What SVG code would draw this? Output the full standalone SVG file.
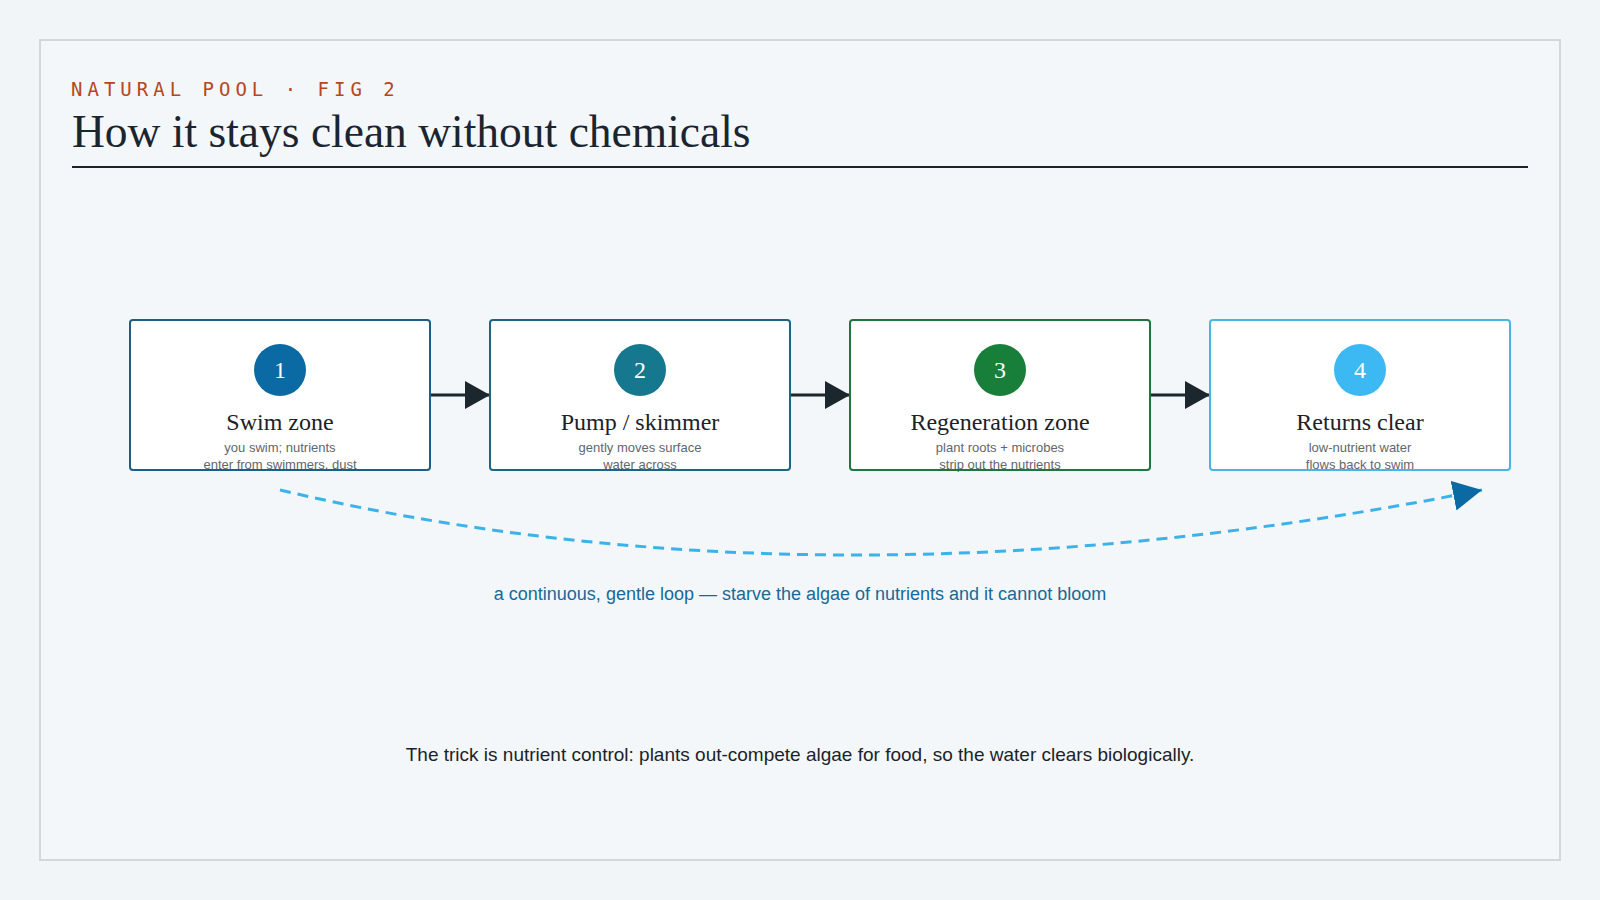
<svg xmlns="http://www.w3.org/2000/svg" width="1600" height="900" viewBox="0 0 1600 900">
  <style>
    .kicker { font-family: "DejaVu Sans Mono", "Liberation Mono", monospace; font-size: 19px; letter-spacing: 5px; fill: #b8461c; }
    .title { font-family: "Liberation Serif", "DejaVu Serif", serif; font-size: 45.5px; fill: #1b2530; }
    .num { font-family: "Liberation Serif", "DejaVu Serif", serif; font-size: 24px; fill: #ffffff; text-anchor: middle; }
    .ntitle { font-family: "Liberation Serif", "DejaVu Serif", serif; font-size: 24px; fill: #1b2228; text-anchor: middle; }
    .nsub { font-family: "Liberation Sans", Arial, sans-serif; font-size: 13px; fill: #5f666c; text-anchor: middle; }
    .boxfill { fill: #ffffff; stroke: none; }
    .boxline { fill: none; stroke-width: 2; }
    .flow { stroke: #1b262d; stroke-width: 3; fill: none; }
    .loop { stroke: #3bb2ea; stroke-width: 3; fill: none; stroke-dasharray: 11 7; }
    .loopnote { font-family: "Liberation Sans", Arial, sans-serif; font-size: 18px; fill: #15699a; text-anchor: middle; }
    .foot { font-family: "Liberation Sans", Arial, sans-serif; font-size: 19px; fill: #1c2328; text-anchor: middle; }
  </style>
  <defs>
    <marker id="arrowDark" markerUnits="userSpaceOnUse" markerWidth="26" markerHeight="30" viewBox="0 0 26 30" refX="25" refY="15" orient="auto">
      <path d="M0,1 L25,15 L0,29 Z" fill="#1b262d"/>
    </marker>
    <marker id="arrowBlue" markerUnits="userSpaceOnUse" markerWidth="30" markerHeight="32" viewBox="0 0 30 32" refX="29" refY="16" orient="auto">
      <path d="M0,1 L29,16 L0,31 Z" fill="#0b69a3"/>
    </marker>
  </defs>

  <rect x="0" y="0" width="1600" height="900" fill="#f2f5f7"/>
  <rect x="40" y="40" width="1520" height="820" fill="#f3f7f9" stroke="#d2d7db" stroke-width="2"/>

  <text class="kicker" x="71" y="96">NATURAL POOL · FIG 2</text>
  <text class="title" x="72" y="147">How it stays clean without chemicals</text>
  <line x1="72" y1="167" x2="1528" y2="167" stroke="#1b2228" stroke-width="2"/>

  <g id="connectors">
    <line class="flow" x1="430" y1="395" x2="490" y2="395" marker-end="url(#arrowDark)"/>
    <line class="flow" x1="790" y1="395" x2="850" y2="395" marker-end="url(#arrowDark)"/>
    <line class="flow" x1="1150" y1="395" x2="1210" y2="395" marker-end="url(#arrowDark)"/>
    <path class="loop" d="M280,490 Q830,620 1482,490" marker-end="url(#arrowBlue)"/>
  </g>

  <g id="node-1">
    <rect class="boxfill" x="130" y="320" width="300" height="150" rx="3"/>
    <circle cx="280" cy="370" r="26" fill="#0b69a3"/>
    <text class="num" x="280" y="378">1</text>
    <text class="ntitle" x="280" y="430">Swim zone</text>
    <text class="nsub" x="280" y="452">you swim; nutrients</text>
    <text class="nsub" x="280" y="469">enter from swimmers, dust</text>
    <rect class="boxline" x="130" y="320" width="300" height="150" rx="3" stroke="#1c5f82"/>
  </g>

  <g id="node-2">
    <rect class="boxfill" x="490" y="320" width="300" height="150" rx="3"/>
    <circle cx="640" cy="370" r="26" fill="#15788f"/>
    <text class="num" x="640" y="378">2</text>
    <text class="ntitle" x="640" y="430">Pump / skimmer</text>
    <text class="nsub" x="640" y="452">gently moves surface</text>
    <text class="nsub" x="640" y="469">water across</text>
    <rect class="boxline" x="490" y="320" width="300" height="150" rx="3" stroke="#1c6681"/>
  </g>

  <g id="node-3">
    <rect class="boxfill" x="850" y="320" width="300" height="150" rx="3"/>
    <circle cx="1000" cy="370" r="26" fill="#187f3b"/>
    <text class="num" x="1000" y="378">3</text>
    <text class="ntitle" x="1000" y="430">Regeneration zone</text>
    <text class="nsub" x="1000" y="452">plant roots + microbes</text>
    <text class="nsub" x="1000" y="469">strip out the nutrients</text>
    <rect class="boxline" x="850" y="320" width="300" height="150" rx="3" stroke="#1f7540"/>
  </g>

  <g id="node-4">
    <rect class="boxfill" x="1210" y="320" width="300" height="150" rx="3"/>
    <circle cx="1360" cy="370" r="26" fill="#3cb9f2"/>
    <text class="num" x="1360" y="378">4</text>
    <text class="ntitle" x="1360" y="430">Returns clear</text>
    <text class="nsub" x="1360" y="452">low-nutrient water</text>
    <text class="nsub" x="1360" y="469">flows back to swim</text>
    <rect class="boxline" x="1210" y="320" width="300" height="150" rx="3" stroke="#4cb4e2"/>
  </g>

  <text class="loopnote" x="800" y="600">a continuous, gentle loop — starve the algae of nutrients and it cannot bloom</text>
  <text class="foot" x="800" y="761">The trick is nutrient control: plants out-compete algae for food, so the water clears biologically.</text>
</svg>
